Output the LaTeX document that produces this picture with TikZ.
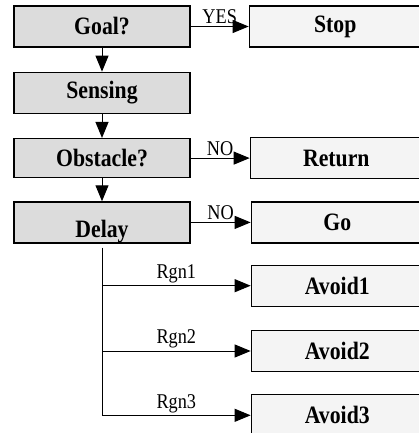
\documentclass[tikz,border=0pt]{standalone}
\usepackage{fontspec}
\setmainfont{Liberation Serif}
\newfontfamily\etroite{Liberation Serif}[FakeStretch=0.87]
\usepackage{xcolor}
\definecolor{grisfonce}{HTML}{DCDCDC}
\definecolor{grisclair}{HTML}{F4F4F4}
\usetikzlibrary{positioning, arrows.meta}

\begin{document}
\begin{tikzpicture}[x=1pt, y=-1pt,
      cond/.style={draw=black, line width=1.3pt, fill=grisfonce,
                   minimum width=176pt, minimum height=41pt, inner sep=0pt,
                   font=\etroite\fontsize{25}{28}\selectfont\bfseries},
      acte/.style={cond, fill=grisclair, minimum width=172pt},
      lien/.style={-{Triangle[length=16pt, width=13pt]}, line width=1pt},
      etiq/.style={font=\etroite\fontsize{21}{23}\selectfont, inner sep=2pt}]
    \useasboundingbox (0,0) rectangle (419,433);
    \clip (0,0) rectangle (419,433);
    % colonne de gauche
    \node[cond] (goal) at (102,26.5) {Goal?};
    \node[cond, below=24pt of goal] (sense) {Sensing};
    \node[cond, below=24pt of sense, minimum height=39pt] (obst) {Obstacle?};
    \node[cond, below=23pt of obst, text height=30pt, text depth=0pt] (dly) {Delay};
    % colonne de droite
    \node[acte, right=58pt of goal]  (stop) {Stop};
    \node[acte, right=59pt of obst]  (ret)  {Return};
    \node[acte, right=60pt of dly]   (go)   {Go};
    \node[acte, below=21pt of go]    (av1)  {Avoid1};
    \node[acte, below=23pt of av1]   (av2)  {Avoid2};
    \node[acte, below=22pt of av2]   (av3)  {Avoid3};
    \coordinate (tronc) at ([yshift=-4pt]dly.south);
    \draw[lien] (goal)  -- (sense);
    \draw[lien] (sense) -- (obst);
    \draw[lien] (obst)  -- (dly);
    \draw[lien] (goal) -- node[etiq, above] {YES} (stop);
    \draw[lien] (obst) -- node[etiq, above] {NO} (ret);
    \draw[lien] (dly)  -- node[etiq, above] {NO} (go);
    \draw[line width=1pt] (tronc) -- (tronc |- av3);
    \draw[lien] (tronc |- av1) -- node[etiq, above] {Rgn1} (av1);
    \draw[lien] (tronc |- av2) -- node[etiq, above] {Rgn2} (av2);
    \draw[lien] (tronc |- av3) -- node[etiq, above] {Rgn3} (av3);
\end{tikzpicture}
\end{document}
